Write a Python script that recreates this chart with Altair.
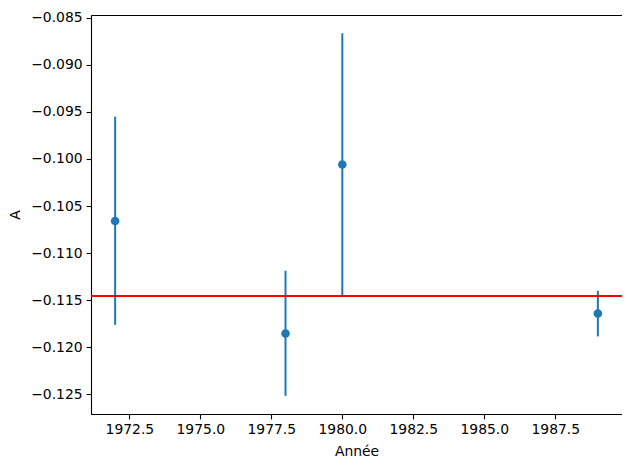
import altair as alt
import pandas as pd

years = [1972, 1978, 1980, 1989]
values = [-0.10659, -0.11853, -0.10058, -0.11641]
lower = [-0.11761, -0.12515, -0.11455, -0.11884]
upper = [-0.09551, -0.11187, -0.08664, -0.11399]
ref_value = -0.11455

x_ticks = [1972.5, 1975.0, 1977.5, 1980.0, 1982.5, 1985.0, 1987.5]
y_ticks = [-0.125, -0.120, -0.115, -0.110, -0.105, -0.100, -0.095, -0.090, -0.085]

df = pd.DataFrame({"Année": years, "A": values, "lo": lower, "hi": upper})

blue = "#1f77b4"
xscale = alt.Scale(domain=[1971.15, 1989.85], nice=False, zero=False)
yscale = alt.Scale(domain=[-0.12708, -0.08471], nice=False, zero=False)

xaxis = alt.Axis(values=x_ticks, format=".1f", title="Année", titlePadding=8)
yaxis = alt.Axis(values=y_ticks, format=".3f", title="A", titlePadding=8)

base = alt.Chart(df)

bars = base.mark_rule(color=blue, strokeWidth=2).encode(
    x=alt.X("Année:Q", scale=xscale, axis=xaxis),
    y=alt.Y("lo:Q", scale=yscale, axis=yaxis),
    y2="hi:Q",
)

points = base.mark_circle(color=blue, size=74, opacity=1).encode(
    x=alt.X("Année:Q", scale=xscale),
    y=alt.Y("A:Q", scale=yscale),
)

ref = base.mark_rule(color="red", strokeWidth=2).encode(
    y=alt.datum(ref_value, scale=yscale),
)

chart = (
    alt.layer(bars, points, ref)
    .properties(
        width=531,
        height=399,
        autosize=alt.AutoSizeParams(type="none"),
        padding={"left": 83, "top": 7, "right": 0, "bottom": 45},
    )
    .configure_view(stroke="black", strokeWidth=1)
    .configure_axis(
        grid=False,
        labelFont="DejaVu Sans",
        titleFont="DejaVu Sans",
        labelFontSize=13.9,
        titleFontSize=13.9,
        titleFontWeight="normal",
        labelColor="black",
        titleColor="black",
        domainColor="black",
        tickColor="black",
        tickSize=4.9,
        tickWidth=1.1,
        domainWidth=1.1,
        labelPadding=4,
    )
)

chart.save("out.html", embed_options={"renderer": "svg", "actions": False})
